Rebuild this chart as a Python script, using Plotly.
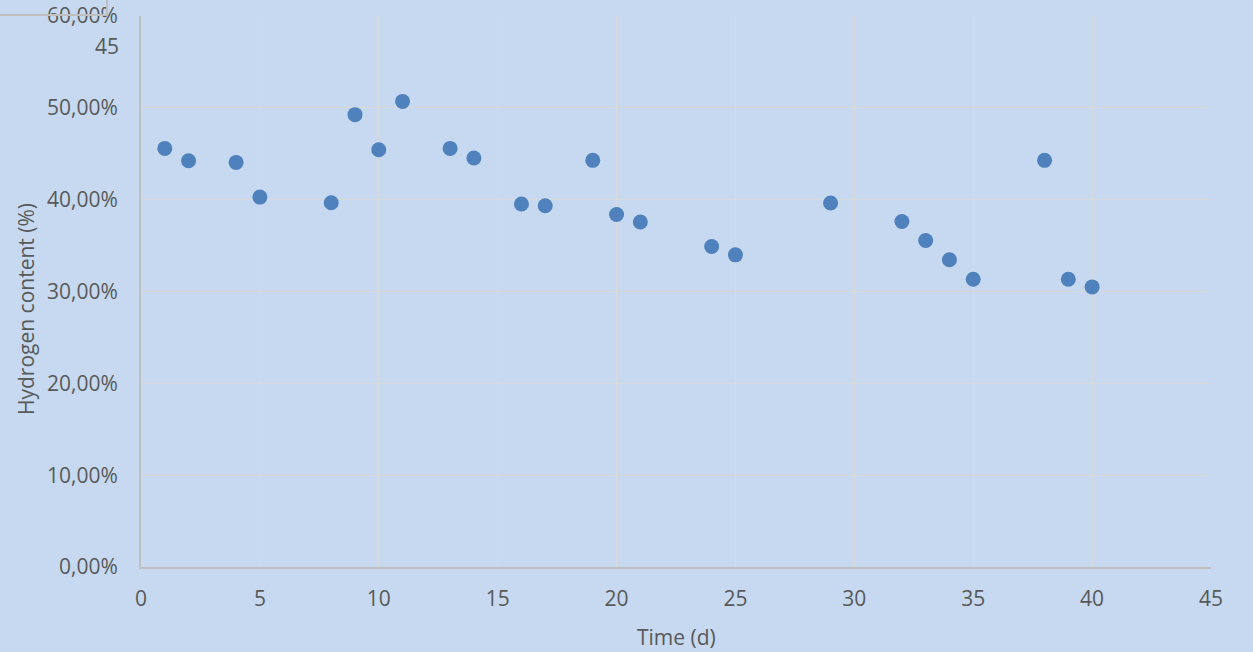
import plotly.graph_objects as go

# Hydrogen content of the gas over time
days = [1, 2, 4, 5, 8, 9, 10, 11, 13, 14, 16, 17, 19, 20, 21, 24, 25, 29,
        32, 33, 34, 35, 38, 39, 40]
hydrogen = [0.4558, 0.4424, 0.4406, 0.4028, 0.3966, 0.4926, 0.4544, 0.5070,
            0.4558, 0.4453, 0.3952, 0.3933, 0.4428, 0.3839, 0.3756, 0.3490,
            0.3399, 0.3963, 0.3762, 0.3555, 0.3345, 0.3134, 0.4428, 0.3134,
            0.3050]

x_ticks = [0, 5, 10, 15, 20, 25, 30, 35, 40, 45]
y_ticks = [0, 0.1, 0.2, 0.3, 0.4, 0.5, 0.6]

BG = "#C6D9F0"
GRID = "#D9D9D9"
AXIS = "#BFBFBF"
TEXT = "#595959"
FONT = "Open Sans"

fig = go.Figure()
fig.add_trace(go.Scatter(
    x=days, y=hydrogen, mode="markers",
    marker=dict(size=15, color="#4F81BD", line=dict(width=0)),
    hoverinfo="x+y",
))

fig.update_layout(
    width=1253, height=652,
    margin=dict(l=141, r=42, t=16, b=85, autoexpand=False),
    paper_bgcolor=BG, plot_bgcolor=BG,
    separators=",.",
    showlegend=False,
    font=dict(family=FONT, size=21, color=TEXT),
)
fig.update_xaxes(
    range=[0, 45], tickvals=x_ticks, ticks="",
    showgrid=True, gridcolor=GRID, gridwidth=1,
    showline=True, linecolor=AXIS, linewidth=2,
    zeroline=False, ticklabelstandoff=12, automargin=False,
    tickfont=dict(family=FONT, size=21, color=TEXT),
)
fig.update_yaxes(
    range=[0, 0.6], tickvals=y_ticks, tickformat=".2%", ticks="",
    showgrid=True, gridcolor=GRID, gridwidth=1,
    showline=True, linecolor=AXIS, linewidth=2,
    zeroline=False, ticklabelstandoff=17, automargin=False,
    tickfont=dict(family=FONT, size=21, color=TEXT),
)

# Axis titles
fig.add_annotation(text="Time (d)", xref="paper", yref="paper",
                   x=0.5, y=-0.127, xanchor="center", yanchor="middle",
                   showarrow=False, font=dict(family=FONT, size=21, color=TEXT))
fig.add_annotation(text="Hydrogen content (%)", xref="paper", yref="paper",
                   x=-0.108, y=0.469, xanchor="center", yanchor="middle",
                   textangle=-90, showarrow=False,
                   font=dict(family=FONT, size=21, color=TEXT))
# Stray label under the top tick
fig.add_annotation(text="45", xref="paper", yref="paper",
                   x=-0.0185, y=0.945, xanchor="right", yanchor="middle",
                   showarrow=False, font=dict(family=FONT, size=21, color=TEXT))

# Frame corner at top left
fig.add_shape(type="line", xref="paper", yref="paper",
              x0=-0.1318, y0=1.0018, x1=-0.0318, y1=1.0018,
              line=dict(color=AXIS, width=2))
fig.add_shape(type="line", xref="paper", yref="paper",
              x0=-0.0318, y0=1.0018, x1=-0.0318, y1=1.03,
              line=dict(color=AXIS, width=2))

fig.write_html("out.html")
